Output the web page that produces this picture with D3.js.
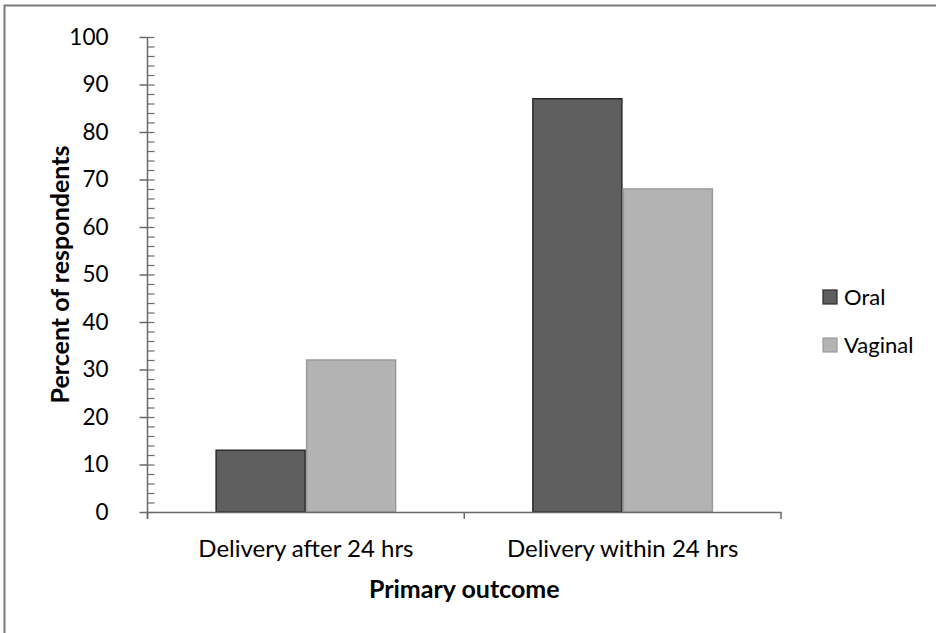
<!DOCTYPE html>
<html>
<head>
<meta charset="utf-8">
<script src="https://cdn.jsdelivr.net/npm/d3@7"></script>
<style>
  html, body { margin: 0; padding: 0; background: #fff; }
  svg { display: block; }
  text { font-family: "Lato", "Open Sans", sans-serif; fill: #000; }
</style>
</head>
<body>
<div id="chart"></div>
<script>
const categories = ["Delivery after 24 hrs", "Delivery within 24 hrs"];
const seriesNames = ["Oral", "Vaginal"];
const oralValues = [13, 87];
const vaginalValues = [32, 68];
const yTicks = [0, 10, 20, 30, 40, 50, 60, 70, 80, 90, 100];
const xTitle = "Primary outcome";
const yTitle = "Percent of respondents";

const W = 936, H = 633;
const plot = { left: 147.5, right: 781, top: 37, bottom: 512 };
const colors = { Oral: "#5f5f5f", Vaginal: "#b3b3b3" };
const strokes = { Oral: "#2a2a2a", Vaginal: "#9a9a9a" };

const svg = d3.select("#chart").append("svg").attr("width", W).attr("height", H);
svg.append("rect").attr("width", W).attr("height", H).attr("fill", "#fff");
// outer frame (right and bottom edges run off the picture)
svg.append("rect").attr("x", 4.5).attr("y", 5.5).attr("width", W + 20).attr("height", H + 20)
  .attr("fill", "none").attr("stroke", "#7a7a7a").attr("stroke-width", 2);

const y = d3.scaleLinear().domain([0, 100]).range([plot.bottom, plot.top]);
const x0 = d3.scaleBand().domain(categories).range([plot.left, plot.right]).padding(0);
const bw = x0.bandwidth();
const gap = bw * 0.75 / 3.5;
const x1 = d3.scaleBand().domain(seriesNames).range([gap, bw - gap]).padding(0);

const data = categories.map((c, i) => ({ cat: c, values: [
  { name: "Oral", value: oralValues[i] },
  { name: "Vaginal", value: vaginalValues[i] }
]}));

// bars
const g = svg.append("g");
g.selectAll("g.cat").data(data).join("g").attr("class", "cat")
  .attr("transform", d => `translate(${x0(d.cat)},0)`)
  .selectAll("rect").data(d => d.values).join("rect")
  .attr("x", d => x1(d.name) + 0.75)
  .attr("width", x1.bandwidth() - 1.5)
  .attr("y", d => y(d.value))
  .attr("height", d => y(0) - y(d.value))
  .attr("fill", d => colors[d.name])
  .attr("stroke", d => strokes[d.name])
  .attr("stroke-width", 1.5);

const axisColor = "#6a6a6a";
// y axis: labels + outside major ticks
const yAxis = svg.append("g").attr("transform", `translate(${plot.left},0)`)
  .call(d3.axisLeft(y).tickValues(yTicks).tickSize(8).tickPadding(31).tickFormat(d3.format("d")));
yAxis.select(".domain").remove();
yAxis.selectAll(".tick line").attr("stroke", axisColor).attr("stroke-width", 1.5);
yAxis.selectAll(".tick text").style("font-size", "22.5px").style("font-family", "Lato, sans-serif").attr("fill", "#000");
// inside minor ticks every 2
const minor = d3.range(0, 101, 2);
const yMinor = svg.append("g").attr("transform", `translate(${plot.left},0)`)
  .call(d3.axisRight(y).tickValues(minor).tickSize(7).tickFormat(""));
yMinor.select(".domain").remove();
yMinor.selectAll(".tick line").attr("stroke", axisColor).attr("stroke-width", 1.2);
// y axis line (extends through the x tick)
svg.append("line").attr("x1", plot.left).attr("x2", plot.left)
  .attr("y1", y(100)).attr("y2", y(0) + 7).attr("stroke", axisColor).attr("stroke-width", 1.5);

// x axis
const xAxis = svg.append("g").attr("transform", `translate(0,${y(0)})`)
  .call(d3.axisBottom(x0).tickSize(0).tickPadding(0));
xAxis.select(".domain").attr("stroke", axisColor).attr("stroke-width", 1.5);
xAxis.selectAll(".tick text").attr("y", 37).attr("dy", "0.35em")
  .style("font-size", "24px").style("font-family", "Lato, sans-serif").attr("fill", "#000");
const bounds = [plot.left, ...categories.map(c => x0(c) + bw)];
svg.append("g").selectAll("line").data(bounds).join("line")
  .attr("x1", d => d).attr("x2", d => d).attr("y1", y(0)).attr("y2", y(0) + 7)
  .attr("stroke", axisColor).attr("stroke-width", 1.5);

// titles
svg.append("text").attr("x", (plot.left + plot.right) / 2).attr("y", 589).attr("dy", "0.35em")
  .attr("text-anchor", "middle").style("font-size", "25px").style("font-weight", "bold").text(xTitle);
svg.append("text").attr("transform", `translate(60,${(plot.top + plot.bottom) / 2}) rotate(-90)`)
  .attr("dy", "0.35em")
  .attr("text-anchor", "middle").style("font-size", "25px").style("font-weight", "bold").text(yTitle);

// legend
const legend = svg.append("g").selectAll("g").data(seriesNames).join("g")
  .attr("transform", (d, i) => `translate(823,${290 + i * 48})`);
legend.append("rect").attr("width", 14).attr("height", 14)
  .attr("fill", d => colors[d]).attr("stroke", d => strokes[d]).attr("stroke-width", 1.2);
legend.append("text").attr("x", 21).attr("y", 7).attr("dy", "0.35em")
  .style("font-size", "22px").text(d => d);
</script>
</body>
</html>
